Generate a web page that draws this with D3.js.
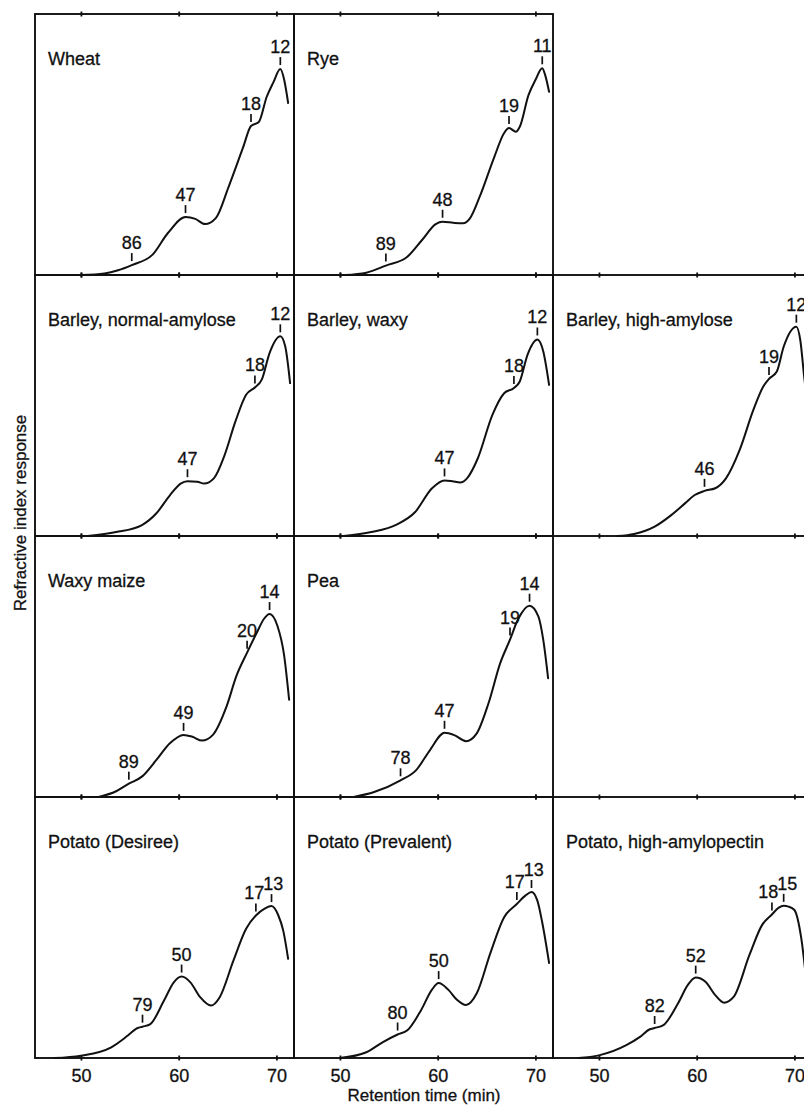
<!DOCTYPE html>
<html>
<head>
<meta charset="utf-8">
<script src="https://cdn.jsdelivr.net/npm/d3@7"></script>
<style>
  html, body { margin: 0; padding: 0; background: #fff; }
  svg { display: block; }
  text { font-family: "Liberation Sans", Arial, Helvetica, sans-serif; fill: #111; stroke: #111; stroke-width: 0.3px; }
</style>
</head>
<body>
<svg id="chart" width="804" height="1105"></svg>
<script>
// ---------------- DATA ----------------
const panelNames = ["Wheat", "Rye", "Barley, normal-amylose", "Barley, waxy", "Barley, high-amylose",
  "Waxy maize", "Pea", "Potato (Desiree)", "Potato (Prevalent)", "Potato, high-amylopectin"];
// grid cell [row, col] of each panel
const panelCells = [[0,0],[0,1],[1,0],[1,1],[1,2],[2,0],[2,1],[3,0],[3,1],[3,2]];

const xTicks = [50, 60, 70];
const xTickLabels = ["50", "60", "70"];
const xTitle = "Retention time (min)";
const yTitle = "Refractive index response";

// [retention time (min), response (% of panel height)]
const wheat = [[50.0,0],[52.4,0.6],[53.8,1.8],[55.2,3.8],[57.3,7.7],[58.9,16.1],[60.7,22.2],[61.7,21.5],[62.7,19.5],[63.8,21.8],[65.1,33.7],[66.6,49.0],[67.4,57.1],[68.2,58.6],[69.0,68.2],[69.7,73.9],[70.4,78.9],[70.8,74.7],[71.2,65.9]];
const rye = [[50.5,0],[52.7,0.9],[54.7,3.6],[56.9,7.0],[58.4,13.4],[59.8,19.5],[60.5,20.4],[61.6,20.0],[62.6,19.8],[63.3,21.7],[64.3,30.0],[65.8,45.3],[66.8,54.4],[67.3,56.3],[68.0,54.9],[68.4,56.8],[69.3,69.0],[70.0,74.7],[70.7,79.2],[71.0,76.6],[71.4,70.2]];
const barleyNormal = [[50.7,0],[53.6,1.5],[56.2,4.1],[57.7,8.6],[59.1,15.6],[60.2,20.1],[60.9,21.0],[61.9,20.8],[62.6,20.1],[63.6,22.1],[64.7,31.0],[65.8,43.8],[66.9,54.1],[67.8,56.9],[68.5,59.9],[69.3,70.1],[70.4,76.5],[70.9,72.7],[71.4,58.6]];
const barleyWaxy = [[50.4,0],[53.2,1.5],[55.8,4.4],[57.7,9.2],[59.4,18.2],[60.7,21.3],[61.5,21.0],[62.3,20.5],[63.0,22.1],[64.1,29.7],[65.6,46.4],[66.8,54.7],[67.8,56.7],[68.4,59.2],[69.2,69.5],[70.2,75.3],[70.8,70.8],[71.4,57.9]];
const barleyHigh = [[51.9,0],[53.6,0.8],[55.7,3.6],[57.4,8.0],[58.8,12.5],[59.8,15.7],[60.8,17.3],[61.9,18.3],[63.0,22.1],[64.4,33.0],[65.8,48.3],[66.8,57.2],[67.4,60.2],[68.2,63.0],[68.9,72.5],[70.2,80.2],[70.6,75.1],[71.0,61.0],[71.4,48.0]];
const waxyMaize = [[51.8,0],[53.6,2.2],[54.9,5.1],[56.3,8.0],[57.7,14.1],[59.1,20.6],[60.5,23.8],[61.4,23.1],[62.4,21.6],[63.5,23.8],[64.9,34.7],[65.9,46.3],[67.0,55.3],[68.0,63.0],[68.7,68.1],[69.3,70.1],[70.1,65.6],[70.8,54.0],[71.3,37.3]];
const pea = [[51.4,0],[53.5,1.9],[56.2,6.4],[57.8,10.3],[59.2,17.9],[60.7,24.6],[61.7,23.7],[62.9,21.4],[64.0,24.4],[65.2,35.9],[66.4,51.3],[67.4,60.3],[68.2,67.9],[69.4,73.3],[70.3,69.2],[70.8,60.3],[71.3,45.5]];
const potatoDesiree = [[47.3,0],[50.0,0.9],[53.1,4.1],[54.8,8.6],[55.8,11.5],[56.3,12.0],[57.1,13.0],[58.5,22.0],[59.5,29.0],[60.3,31.2],[61.2,29.0],[62.2,23.3],[63.3,20.1],[64.2,23.3],[65.6,37.3],[66.9,49.5],[67.9,54.6],[68.8,57.2],[69.5,58.2],[70.2,54.6],[70.7,48.8],[71.2,38.0]];
const potatoPrevalent = [[50.0,0],[52.7,2.2],[54.4,6.1],[55.9,9.0],[56.9,10.6],[58.3,18.3],[59.4,26.1],[60.1,28.7],[61.1,26.1],[62.0,22.2],[62.9,20.3],[64.0,24.8],[65.4,40.3],[66.8,53.9],[68.1,59.0],[69.0,62.3],[69.6,63.6],[70.2,60.3],[70.7,51.9],[71.4,36.4]];
const potatoHighAmylopectin = [[47.9,0],[50.0,1.0],[52.8,4.9],[54.2,8.1],[55.2,11.0],[55.7,11.5],[56.6,12.6],[58.1,21.0],[59.1,28.0],[59.9,30.8],[60.9,29.2],[61.9,24.1],[62.8,21.2],[63.8,23.5],[65.4,39.5],[66.7,51.0],[67.7,55.0],[68.4,57.6],[68.9,58.3],[69.4,58.0],[70.0,56.7],[70.7,45.9],[71.3,26.7]];

// peak annotations: [retention time, label (degree of polymerisation)]
const wheatPeaks = [[55.2,"86"],[60.7,"47"],[67.4,"18"],[70.4,"12"]];
const ryePeaks = [[54.7,"89"],[60.5,"48"],[67.3,"19"],[70.7,"11"]];
const barleyNormalPeaks = [[60.9,"47"],[67.8,"18"],[70.4,"12"]];
const barleyWaxyPeaks = [[60.7,"47"],[67.8,"18"],[70.2,"12"]];
const barleyHighPeaks = [[60.8,"46"],[67.4,"19"],[70.2,"12"]];
const waxyMaizePeaks = [[54.9,"89"],[60.5,"49"],[67.0,"20"],[69.3,"14"]];
const peaPeaks = [[56.2,"78"],[60.7,"47"],[67.4,"19"],[69.4,"14"]];
const potatoDesireePeaks = [[56.3,"79"],[60.3,"50"],[67.9,"17"],[69.5,"13"]];
const potatoPrevalentPeaks = [[55.9,"80"],[60.1,"50"],[68.1,"17"],[69.6,"13"]];
const potatoHighAmylopectinPeaks = [[55.7,"82"],[59.9,"52"],[67.7,"18"],[68.9,"15"]];

const seriesList = [wheat, rye, barleyNormal, barleyWaxy, barleyHigh, waxyMaize, pea, potatoDesiree, potatoPrevalent, potatoHighAmylopectin];
const peaksList = [wheatPeaks, ryePeaks, barleyNormalPeaks, barleyWaxyPeaks, barleyHighPeaks, waxyMaizePeaks, peaPeaks, potatoDesireePeaks, potatoPrevalentPeaks, potatoHighAmylopectinPeaks];

// ---------------- LAYOUT ----------------
const svg = d3.select("#chart");
const gridLeft = 35, gridTop = 14, W = 259, H = 261;
const xDomain = [45.3, 71.8];
const FS = 18;

const x = d3.scaleLinear().domain(xDomain).range([0, W]);
const y = d3.scaleLinear().domain([0, 100]).range([H, 0]);

const line = d3.line().x(d => x(d[0])).y(d => y(d[1])).curve(d3.curveMonotoneX);

function interp(series, t) {
  for (let i = 0; i < series.length - 1; i++) {
    const a = series[i], b = series[i + 1];
    if (t >= a[0] && t <= b[0]) {
      return a[1] + (b[1] - a[1]) * (t - a[0]) / (b[0] - a[0]);
    }
  }
  return series[series.length - 1][1];
}

panelNames.forEach((name, i) => {
  const [r, c] = panelCells[i];
  const g = svg.append("g").attr("transform", `translate(${gridLeft + c * W},${gridTop + r * H})`);

  // frame
  g.append("rect").attr("x", 0).attr("y", 0).attr("width", W).attr("height", H)
    .attr("fill", "none").attr("stroke", "#111").attr("stroke-width", 1.9);

  // ticks on top and bottom edges
  [0, H].forEach(edge => {
    const ax = g.append("g").attr("transform", `translate(0,${edge - 2.5})`)
      .call(d3.axisBottom(x).tickValues(xTicks).tickSize(5).tickFormat(""));
    ax.select(".domain").remove();
    ax.selectAll(".tick line").attr("stroke", "#111").attr("stroke-width", 1.8);
  });

  // title
  g.append("text").attr("x", 13).attr("y", 51).attr("font-size", FS).text(name);

  // curve
  const series = seriesList[i];
  g.append("path").datum(series).attr("d", line)
    .attr("fill", "none").attr("stroke", "#111").attr("stroke-width", 2)
    .attr("stroke-linejoin", "round").attr("stroke-linecap", "round");

  // peak labels
  const peaks = peaksList[i];
  const pos = peaks.map(p => ({ t: p[0], label: p[1], px: x(p[0]), py: y(interp(series, p[0])), tx: x(p[0]) }));
  for (let k = 0; k < pos.length - 1; k++) {
    const dx = pos[k + 1].tx - pos[k].tx;
    if (dx < 19) {
      const s = (19 - dx) / 2;
      pos[k].tx -= s; pos[k + 1].tx += s;
    }
  }
  pos.forEach(p => {
    g.append("line").attr("x1", p.px).attr("x2", p.px)
      .attr("y1", p.py - 4).attr("y2", p.py - 12)
      .attr("stroke", "#111").attr("stroke-width", 1.7);
    g.append("text").attr("x", p.tx).attr("y", p.py - 16)
      .attr("text-anchor", "middle").attr("font-size", FS).text(p.label);
  });
});

// bottom tick labels
const bottomRow = 3;
[0, 1, 2].forEach(c => {
  const ax = svg.append("g")
    .attr("transform", `translate(${gridLeft + c * W},${gridTop + (bottomRow + 1) * H})`)
    .call(d3.axisBottom(x).tickValues(xTicks).tickSize(0).tickPadding(11)
      .tickFormat((d, k) => xTickLabels[k]));
  ax.select(".domain").remove();
  ax.selectAll("text").attr("font-size", FS)
    .attr("font-family", "'Liberation Sans', Arial, sans-serif").attr("fill", "#111");
});

// axis titles
svg.append("text").attr("x", 424).attr("y", 1101).attr("text-anchor", "middle")
  .attr("font-size", 17).text(xTitle);
svg.append("text").attr("transform", "translate(26,513) rotate(-90)")
  .attr("text-anchor", "middle").attr("font-size", 17).text(yTitle);
</script>
</body>
</html>
